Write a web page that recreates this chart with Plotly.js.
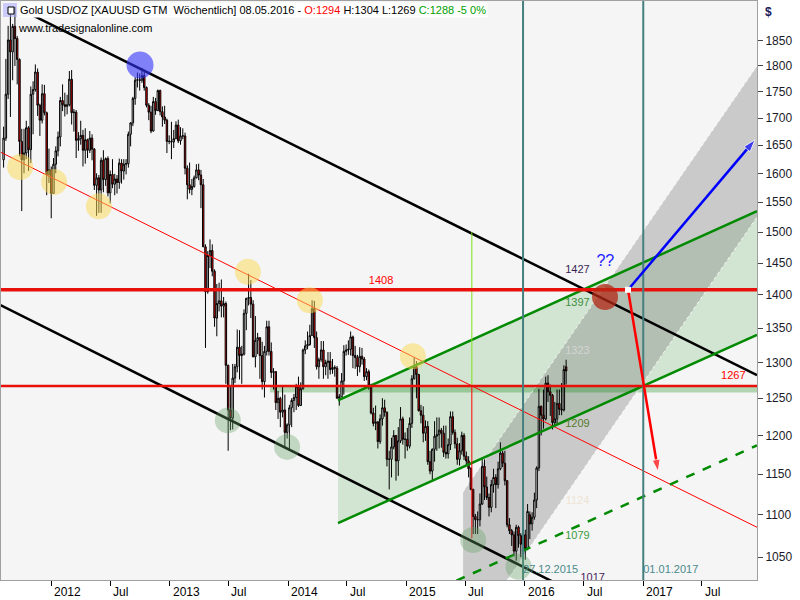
<!DOCTYPE html>
<html><head><meta charset="utf-8">
<script src="https://cdn.plot.ly/plotly-3.0.1.min.js"></script>
<style>html,body{margin:0;padding:0;background:#fff}#chart{width:800px;height:600px}</style>
</head><body><div id="chart"></div>
<script>
// ---- weekly candles (week ending dates) ----
const weekEnding = [
'2011-08-07','2011-08-14','2011-08-21','2011-08-28','2011-09-04','2011-09-11','2011-09-18','2011-09-25','2011-10-02','2011-10-09','2011-10-16','2011-10-23','2011-10-30','2011-11-06','2011-11-13','2011-11-20','2011-11-27','2011-12-04','2011-12-11','2011-12-18','2011-12-25','2012-01-01',
'2012-01-08','2012-01-15','2012-01-22','2012-01-29','2012-02-05','2012-02-12','2012-02-19','2012-02-26','2012-03-04','2012-03-11','2012-03-18','2012-03-25','2012-04-01','2012-04-08','2012-04-15','2012-04-22','2012-04-29','2012-05-06','2012-05-13','2012-05-20','2012-05-27','2012-06-03','2012-06-10','2012-06-17','2012-06-24','2012-07-01','2012-07-08','2012-07-15','2012-07-22','2012-07-29','2012-08-05','2012-08-12','2012-08-19','2012-08-26','2012-09-02','2012-09-09','2012-09-16','2012-09-23','2012-09-30','2012-10-07','2012-10-14','2012-10-21','2012-10-28','2012-11-04','2012-11-11','2012-11-18','2012-11-25','2012-12-02','2012-12-09','2012-12-16','2012-12-23','2012-12-30',
'2013-01-06','2013-01-13','2013-01-20','2013-01-27','2013-02-03','2013-02-10','2013-02-17','2013-02-24','2013-03-03','2013-03-10','2013-03-17','2013-03-24','2013-03-31','2013-04-07','2013-04-14','2013-04-21','2013-04-28','2013-05-05','2013-05-12','2013-05-19','2013-05-26','2013-06-02','2013-06-09','2013-06-16','2013-06-23','2013-06-30','2013-07-07','2013-07-14','2013-07-21','2013-07-28','2013-08-04','2013-08-11','2013-08-18','2013-08-25','2013-09-01','2013-09-08','2013-09-15','2013-09-22','2013-09-29','2013-10-06','2013-10-13','2013-10-20','2013-10-27','2013-11-03','2013-11-10','2013-11-17','2013-11-24','2013-12-01','2013-12-08','2013-12-15','2013-12-22','2013-12-29',
'2014-01-05','2014-01-12','2014-01-19','2014-01-26','2014-02-02','2014-02-09','2014-02-16','2014-02-23','2014-03-02','2014-03-09','2014-03-16','2014-03-23','2014-03-30','2014-04-06','2014-04-13','2014-04-20','2014-04-27','2014-05-04','2014-05-11','2014-05-18','2014-05-25','2014-06-01','2014-06-08','2014-06-15','2014-06-22','2014-06-29','2014-07-06','2014-07-13','2014-07-20','2014-07-27','2014-08-03','2014-08-10','2014-08-17','2014-08-24','2014-08-31','2014-09-07','2014-09-14','2014-09-21','2014-09-28','2014-10-05','2014-10-12','2014-10-19','2014-10-26','2014-11-02','2014-11-09','2014-11-16','2014-11-23','2014-11-30','2014-12-07','2014-12-14','2014-12-21','2014-12-28',
'2015-01-04','2015-01-11','2015-01-18','2015-01-25','2015-02-01','2015-02-08','2015-02-15','2015-02-22','2015-03-01','2015-03-08','2015-03-15','2015-03-22','2015-03-29','2015-04-05','2015-04-12','2015-04-19','2015-04-26','2015-05-03','2015-05-10','2015-05-17','2015-05-24','2015-05-31','2015-06-07','2015-06-14','2015-06-21','2015-06-28','2015-07-05','2015-07-12','2015-07-19','2015-07-26','2015-08-02','2015-08-09','2015-08-16','2015-08-23','2015-08-30','2015-09-06','2015-09-13','2015-09-20','2015-09-27','2015-10-04','2015-10-11','2015-10-18','2015-10-25','2015-11-01','2015-11-08','2015-11-15','2015-11-22','2015-11-29','2015-12-06','2015-12-13','2015-12-20','2015-12-27',
'2016-01-03','2016-01-10','2016-01-17','2016-01-24','2016-01-31','2016-02-07','2016-02-14','2016-02-21','2016-02-28','2016-03-06','2016-03-13','2016-03-20','2016-03-27','2016-04-03','2016-04-10','2016-04-17','2016-04-24','2016-05-01','2016-05-08'];

const openP = [
1624,1663,1745,1852,1828,1880,1855,1813,1657,1624,1636,1682,1642,1745,1754,1788,1724,1696,1746,1710,1598,1606,
1565,1616,1640,1665,1733,1725,1722,1725,1774,1710,1711,1659,1662,1668,1641,1660,1641,1663,1643,1579,1592,1571,1623,1589,1626,1566,1598,1581,1590,1584,1618,1604,1616,1617,1670,1691,1737,1772,1773,1772,1781,1758,1724,1711,1676,1731,1714,1752,1712,1702,1696,1657,
1657,1656,1662,1687,1658,1667,1667,1609,1580,1572,1577,1592,1606,1597,1580,1476,1405,1462,1470,1437,1365,1387,1391,1383,1387,1296,1234,1223,1278,1294,1322,1310,1312,1372,1395,1396,1386,1308,1332,1336,1310,1273,1316,1352,1316,1286,1287,1244,1250,1231,1234,1204,
1214,1237,1247,1251,1266,1240,1263,1318,1324,1326,1339,1379,1336,1294,1304,1318,1294,1300,1302,1290,1293,1292,1250,1252,1274,1316,1318,1319,1337,1310,1307,1294,1309,1305,1280,1287,1268,1230,1216,1218,1192,1222,1237,1231,1169,1169,1185,1200,1167,1193,1222,1195,
1195,1186,1216,1277,1294,1283,1233,1227,1203,1212,1166,1154,1182,1199,1201,1207,1203,1178,1176,1188,1225,1204,1189,1169,1180,1200,1173,1167,1157,1131,1098,1094,1094,1113,1160,1134,1121,1109,1137,1146,1137,1157,1177,1164,1142,1088,1081,1076,1057,1085,1075,1065,
1076,1060,1100,1089,1097,1118,1158,1239,1227,1222,1271,1259,1254,1217,1222,1243,1235,1234,1294];

const highP = [
1684,1814,1881,1912,1885,1921,1860,1815,1680,1680,1695,1685,1760,1770,1803,1795,1727,1764,1763,1712,1644,1612,
1627,1648,1675,1740,1764,1748,1744,1790,1792,1717,1715,1674,1695,1678,1681,1662,1676,1670,1645,1600,1597,1628,1641,1628,1630,1605,1625,1599,1597,1626,1625,1625,1625,1675,1692,1740,1778,1787,1785,1796,1788,1760,1728,1723,1740,1738,1754,1754,1722,1723,1699,1668,
1693,1678,1694,1697,1683,1681,1673,1614,1619,1590,1596,1616,1617,1606,1590,1480,1469,1488,1480,1440,1417,1419,1424,1397,1390,1297,1267,1298,1298,1348,1347,1324,1378,1395,1433,1423,1392,1368,1343,1336,1330,1324,1361,1361,1329,1292,1288,1260,1252,1266,1255,1216,
1241,1250,1256,1270,1280,1272,1320,1332,1345,1355,1392,1391,1345,1307,1331,1331,1304,1315,1315,1305,1296,1295,1256,1285,1325,1326,1332,1345,1339,1324,1311,1322,1321,1308,1292,1290,1270,1237,1240,1219,1228,1250,1248,1232,1180,1197,1207,1200,1211,1238,1225,1204,
1210,1224,1282,1307,1302,1284,1241,1239,1220,1219,1180,1183,1219,1224,1224,1210,1213,1213,1196,1232,1232,1208,1197,1190,1205,1203,1179,1173,1159,1132,1101,1104,1126,1170,1169,1147,1126,1143,1157,1150,1166,1191,1180,1180,1142,1096,1083,1080,1088,1087,1078,1088,
1082,1113,1104,1103,1127,1160,1263,1240,1262,1280,1282,1269,1256,1245,1262,1262,1271,1296,1304];

const lowP = [
1610,1658,1736,1702,1772,1800,1764,1630,1535,1600,1625,1604,1618,1670,1750,1704,1667,1690,1705,1562,1583,1523,
1565,1600,1630,1648,1713,1703,1707,1722,1688,1675,1627,1640,1651,1612,1617,1627,1636,1623,1571,1527,1532,1532,1567,1578,1560,1548,1574,1562,1565,1573,1582,1589,1598,1610,1648,1685,1725,1758,1752,1767,1752,1720,1696,1672,1675,1706,1713,1705,1684,1689,1636,1652,
1625,1645,1661,1654,1651,1661,1598,1555,1565,1562,1575,1591,1588,1540,1476,1321,1402,1442,1429,1352,1338,1375,1366,1366,1270,1180,1207,1208,1271,1286,1276,1270,1310,1347,1384,1365,1308,1293,1312,1277,1262,1251,1310,1310,1278,1262,1234,1222,1211,1224,1185,1196,
1182,1211,1231,1234,1238,1240,1262,1312,1319,1324,1339,1321,1290,1277,1301,1277,1282,1277,1283,1284,1280,1250,1240,1252,1255,1310,1311,1310,1292,1291,1281,1286,1297,1274,1275,1262,1228,1212,1207,1183,1189,1213,1225,1160,1131,1146,1182,1142,1148,1190,1188,1170,
1180,1183,1210,1276,1250,1232,1216,1191,1193,1162,1150,1142,1166,1180,1183,1184,1172,1170,1170,1181,1201,1183,1162,1161,1175,1168,1161,1146,1130,1077,1077,1077,1086,1112,1118,1118,1098,1103,1127,1108,1132,1155,1159,1136,1085,1077,1063,1051,1046,1061,1050,1064,
1047,1058,1071,1081,1094,1108,1154,1200,1209,1220,1245,1226,1208,1213,1215,1227,1227,1232,1269];

const closeP = [
1663,1745,1852,1828,1880,1855,1813,1657,1624,1636,1682,1642,1745,1754,1788,1724,1696,1746,1710,1598,1606,1565,
1616,1640,1665,1733,1725,1722,1725,1774,1710,1711,1659,1662,1668,1641,1660,1641,1663,1643,1579,1592,1571,1623,1589,1626,1566,1598,1581,1590,1584,1618,1604,1616,1617,1670,1691,1737,1772,1773,1772,1781,1758,1724,1711,1676,1731,1714,1752,1712,1702,1696,1657,1657,
1656,1662,1687,1658,1667,1667,1609,1580,1572,1577,1592,1606,1597,1580,1476,1405,1462,1470,1437,1365,1387,1391,1383,1387,1296,1234,1223,1278,1294,1322,1310,1312,1372,1395,1396,1386,1308,1332,1336,1310,1273,1316,1352,1316,1286,1287,1244,1250,1231,1234,1204,1214,
1237,1247,1251,1266,1240,1263,1318,1324,1326,1339,1379,1336,1294,1304,1318,1294,1300,1302,1290,1293,1292,1250,1252,1274,1316,1318,1319,1337,1310,1307,1294,1309,1305,1280,1287,1268,1230,1216,1218,1192,1222,1237,1231,1169,1169,1185,1200,1167,1193,1222,1195,1195,
1186,1216,1277,1294,1283,1233,1227,1203,1212,1166,1154,1182,1199,1201,1207,1203,1178,1176,1188,1225,1204,1189,1169,1180,1200,1173,1167,1157,1131,1098,1094,1094,1113,1160,1134,1121,1109,1137,1146,1137,1157,1177,1164,1142,1088,1081,1076,1057,1085,1075,1065,1076,
1060,1104,1089,1097,1118,1158,1239,1227,1222,1271,1259,1254,1217,1222,1243,1235,1234,1290,1288];

// ---- axes ----
const X_RANGE = ['2011-07-30', '2017-12-18'];
const Y_RANGE = [1024, 1933];
const yTickVals = [1050,1100,1150,1200,1250,1300,1350,1400,1450,1500,1550,1600,1650,1700,1750,1800,1850];
const xTickVals = ['2012-01-01','2012-07-01','2013-01-01','2013-07-01','2014-01-01','2014-07-01','2015-01-01','2015-07-01','2016-01-01','2016-07-01','2017-01-01','2017-07-01'];
const xTickText = ['2012','Jul','2013','Jul','2014','Jul','2015','Jul','2016','Jul','2017','Jul'];

// ---- drawing tools (date, price) ----
const upperBlackX = ['2011-09-27','2017-12-18'], upperBlackY = [1916, 1282];
const lowerBlackX = ['2011-07-27','2016-04-25'], lowerBlackY = [1385, 1017];
const midRedX = ['2011-07-27','2017-12-18'], midRedY = [1638, 1085];
const levelX = ['2011-07-27','2017-12-18'];
const level1408 = 1408, level1267 = 1267;
const greenChX = ['2014-06-04','2017-12-18'];
const greenUpY = [1247, 1535], greenLowY = [1090, 1340];
const greenDashX = ['2015-04-15','2017-12-18'], greenDashY = [1015, 1187];
const grayBandX = ['2015-06-25','2017-12-18','2017-12-18','2015-09-25','2015-06-25'];
const grayBandY = [1128, 1800, 1525, 1001, 1001];
const grayUpperEdgeX = ['2015-06-25','2017-12-18'], grayUpperEdgeY = [1128, 1800];
const grayLowerEdgeX = ['2015-09-25','2017-12-18'], grayLowerEdgeY = [1001, 1525];
const zoneX = ['2013-11-06','2017-12-18'], zoneY = [1258, 1267];
const markerLineDates = ['2015-12-27','2017-01-01'];
const measureDate = '2015-07-22', measureTop = 1500, measureMid = 1267, measureLow = 1072;
const pivotDate = '2016-11-15', pivotPrice = 1408;
const redArrowEnd = ['2017-02-16', 1153];
const blueArrowEnd = ['2017-12-12', 1660];

const yellowCircX = ['2011-09-27','2012-01-10','2012-05-27','2013-08-30','2014-03-09','2015-01-21'];
const yellowCircY = [1611, 1585, 1543, 1436, 1392, 1309];
const blueCircX = ['2012-10-01'], blueCircY = [1802];
const greenCircX = ['2013-06-29','2013-12-29','2015-07-26','2015-12-13'];
const greenCircY = [1220, 1185, 1070, 1039];
const brownCircX = ['2016-09-05'], brownCircY = [1397];

const labelDate = '2016-06-12';
const sideLabels = ['1427','1397','1323','1209','1124','1079'];
const sideLabelY = [1438, 1387, 1316, 1215, 1117, 1074];
const sideLabelColors = ['#3a1f55','#3f8f3f','#d4d4d4','#557a2c','#efe4d4','#3d9a3d'];

const F = 'Liberation Sans, Arial, sans-serif';
const L = Math.log10;
const ov = {xaxis:'x2', yaxis:'y2', hoverinfo:'skip', showlegend:false};
const base = {hoverinfo:'skip', showlegend:false};

const traces = [
  // ---- background fills (main subplot, below candles) ----
  Object.assign({type:'scatter', mode:'lines', x:[greenChX[0],greenChX[1],greenChX[1],greenChX[0],greenChX[0]],
    y:[greenUpY[0],greenUpY[1],greenLowY[1],greenLowY[0],greenUpY[0]], fill:'toself',
    fillcolor:'rgba(0,128,0,0.14)', line:{width:0}}, base),
  Object.assign({type:'scatter', mode:'lines', x:grayBandX, y:grayBandY, fill:'toself',
    fillcolor:'rgba(120,120,120,0.34)', line:{width:0}}, base),
  Object.assign({type:'scatter', mode:'lines', x:[zoneX[0],zoneX[1],zoneX[1],zoneX[0],zoneX[0]],
    y:[zoneY[1],zoneY[1],zoneY[0],zoneY[0],zoneY[1]], fill:'toself',
    fillcolor:'rgba(0,128,0,0.28)', line:{width:0}}, base),
  Object.assign({type:'scatter', mode:'lines', x:grayUpperEdgeX, y:grayUpperEdgeY,
    line:{color:'rgba(255,255,255,0.75)', width:1, dash:'dot'}}, base),
  Object.assign({type:'scatter', mode:'lines', x:grayLowerEdgeX, y:grayLowerEdgeY,
    line:{color:'rgba(255,255,255,0.85)', width:1, dash:'dot'}}, base),

  // ---- candles (overlay) ----
  Object.assign({type:'candlestick', x:weekEnding, open:openP, high:highP, low:lowP, close:closeP,
    whiskerwidth:0,
    increasing:{line:{color:'#000000', width:1}, fillcolor:'#ffffff'},
    decreasing:{line:{color:'#000000', width:1}, fillcolor:'#ff0000'}}, ov),

  // ---- lines ----
  Object.assign({type:'scatter', mode:'lines', x:midRedX, y:midRedY, line:{color:'#ff0000', width:1}}, ov),
  Object.assign({type:'scatter', mode:'lines', x:upperBlackX, y:upperBlackY, line:{color:'#000000', width:2.5}}, ov),
  Object.assign({type:'scatter', mode:'lines', x:lowerBlackX, y:lowerBlackY, line:{color:'#000000', width:2.5}}, ov),
  Object.assign({type:'scatter', mode:'lines', x:greenChX, y:greenUpY, line:{color:'#008a00', width:2.5}}, ov),
  Object.assign({type:'scatter', mode:'lines', x:greenChX, y:greenLowY, line:{color:'#008a00', width:2.5}}, ov),
  Object.assign({type:'scatter', mode:'lines', x:greenDashX, y:greenDashY, line:{color:'#008a00', width:2.5, dash:'dash'}}, ov),
  Object.assign({type:'scatter', mode:'lines', x:[measureDate,measureDate], y:[measureTop,measureMid], line:{color:'#80e020', width:1}}, ov),
  Object.assign({type:'scatter', mode:'lines', x:[measureDate,measureDate], y:[measureMid,measureLow], line:{color:'#ff0000', width:1}}, ov),
  Object.assign({type:'scatter', mode:'lines', x:levelX, y:[level1408,level1408], line:{color:'#e8100a', width:3.5}}, ov),
  Object.assign({type:'scatter', mode:'lines', x:levelX, y:[level1267,level1267], line:{color:'#e8100a', width:2.5}}, ov),
  Object.assign({type:'scatter', mode:'lines', x:[markerLineDates[0],markerLineDates[0]], y:[1000,2000], line:{color:'#457f7f', width:2}}, ov),
  Object.assign({type:'scatter', mode:'lines', x:[markerLineDates[1],markerLineDates[1]], y:[1000,2000], line:{color:'#457f7f', width:2}}, ov),
  Object.assign({type:'scatter', mode:'lines+markers', x:[pivotDate, redArrowEnd[0]], y:[pivotPrice, redArrowEnd[1]],
    line:{color:'#ff0000', width:2.5}, marker:{symbol:'arrow', size:[0,13], angleref:'previous', color:'#ff0000'}}, ov),
  Object.assign({type:'scatter', mode:'lines+markers', x:[pivotDate, blueArrowEnd[0]], y:[pivotPrice, blueArrowEnd[1]],
    line:{color:'#0000ff', width:2.5}, marker:{symbol:'arrow', size:[0,13], angleref:'previous', color:'#0000ff'}}, ov),
  Object.assign({type:'scatter', mode:'markers', x:[pivotDate], y:[pivotPrice],
    marker:{symbol:'square', size:6, color:'#ffffff', line:{width:0}}}, ov),

  // ---- highlight circles ----
  Object.assign({type:'scatter', mode:'markers', x:yellowCircX, y:yellowCircY,
    marker:{size:26, color:'rgba(250,218,82,0.5)', line:{width:0}}}, ov),
  Object.assign({type:'scatter', mode:'markers', x:blueCircX, y:blueCircY,
    marker:{size:27, color:'rgba(50,50,250,0.6)', line:{width:0}}}, ov),
  Object.assign({type:'scatter', mode:'markers', x:greenCircX, y:greenCircY,
    marker:{size:26, color:'rgba(100,160,100,0.35)', line:{width:0}}}, ov),
  Object.assign({type:'scatter', mode:'markers', x:brownCircX, y:brownCircY,
    marker:{size:26, color:'rgba(180,40,20,0.75)', line:{width:0}}}, ov),

  // ---- text labels ----
  Object.assign({type:'scatter', mode:'text', x:sideLabels.map(()=>labelDate), y:sideLabelY, text:sideLabels,
    textposition:'middle center', textfont:{family:F, size:11, color:sideLabelColors}}, ov),
  Object.assign({type:'scatter', mode:'text', x:['2014-10-15'], y:[1421], text:['1408'],
    textposition:'middle center', textfont:{family:F, size:11, color:'#ff0000'}}, ov),
  Object.assign({type:'scatter', mode:'text', x:['2017-10-06'], y:[1280], text:['1267'],
    textposition:'middle center', textfont:{family:F, size:11, color:'#ff0000'}}, ov),
  Object.assign({type:'scatter', mode:'text', x:['2016-09-06'], y:[1452], text:['??'],
    textposition:'middle center', textfont:{family:F, size:16, color:'#1a1aff'}}, ov),
  Object.assign({type:'scatter', mode:'text', x:['2016-07-29'], y:[1026], text:['1017'],
    textposition:'middle center', textfont:{family:F, size:11, color:'#4a1a5a'}}, ov),
  Object.assign({type:'scatter', mode:'text', x:markerLineDates, y:[1035,1035], text:['27.12.2015','01.01.2017'],
    textposition:'middle right', textfont:{family:F, size:11, color:'#4a8a8a'}}, ov)
];

const annotations = xTickVals.map((d,i)=>({x:d, xref:'x', y:0, yref:'paper', yanchor:'top', xanchor:'left',
  xshift:1, yshift:-3, text:xTickText[i], showarrow:false, font:{family:F, size:12, color:'#000'}}));
annotations.push({xref:'paper', yref:'paper', x:0, y:1, xanchor:'left', yanchor:'top', xshift:17, yshift:-1,
  text:'Gold USD/OZ [XAUUSD GTM  Wöchentlich] 08.05.2016 - <span style="color:#ff0000">O:1294</span> H:1304 L:1269 <span style="color:#00a000">C:1288 -5 0%</span>',
  showarrow:false, bgcolor:'#ffffff', borderpad:1, font:{family:F, size:11, color:'#000'}});
annotations.push({xref:'paper', yref:'paper', x:0, y:1, xanchor:'left', yanchor:'top', xshift:15, yshift:-19,
  text:'www.tradesignalonline.com', showarrow:false, font:{family:F, size:11, color:'#000'}});
annotations.push({xref:'paper', yref:'paper', x:1, y:1, xanchor:'left', yanchor:'top', xshift:6, yshift:-2,
  text:'<b>$</b>', showarrow:false, font:{family:F, size:12, color:'#1a1a5a'}});

const layout = {
  width:800, height:600, margin:{l:1, r:43, t:1, b:20},
  paper_bgcolor:'#ffffff', plot_bgcolor:'#f5f5f5', showlegend:false, hovermode:false,
  boxgap:0.1,
  xaxis:{type:'date', range:X_RANGE, showgrid:false, zeroline:false, showline:true, mirror:true,
    linecolor:'#a0a0a0', linewidth:1, ticks:'outside', ticklen:5, tickcolor:'#000', tickvals:xTickVals,
    showticklabels:false, rangeslider:{visible:false}, fixedrange:true},
  yaxis:{type:'log', range:[L(Y_RANGE[0]), L(Y_RANGE[1])], side:'right', showgrid:false, zeroline:false,
    showline:true, mirror:true, linecolor:'#a0a0a0', linewidth:1, ticks:'outside', ticklen:5, tickcolor:'#444',
    tickvals:yTickVals, ticktext:yTickVals.map(String), tickfont:{family:F, size:12, color:'#1a1a2a'}, fixedrange:true},
  xaxis2:{type:'date', range:X_RANGE, overlaying:'x', anchor:'y2', visible:false, rangeslider:{visible:false}, fixedrange:true},
  yaxis2:{type:'log', range:[L(Y_RANGE[0]), L(Y_RANGE[1])], overlaying:'y', anchor:'x2', side:'right', visible:false, fixedrange:true},
  shapes:[{type:'rect', xref:'paper', yref:'paper', xsizemode:'pixel', ysizemode:'pixel',
    xanchor:0, yanchor:1, x0:2, x1:16, y0:-2, y1:-16, line:{width:0}, fillcolor:'rgba(170,170,255,0.55)', layer:'above'},
    {type:'rect', xref:'paper', yref:'paper', xsizemode:'pixel', ysizemode:'pixel',
    xanchor:0, yanchor:1, x0:7, x1:13, y0:-6, y1:-13, line:{width:1, color:'#000'}, fillcolor:'#ffffff', layer:'above'}],
  annotations:annotations
};

Plotly.newPlot('chart', traces, layout, {displayModeBar:false, staticPlot:true});
</script></body></html>
